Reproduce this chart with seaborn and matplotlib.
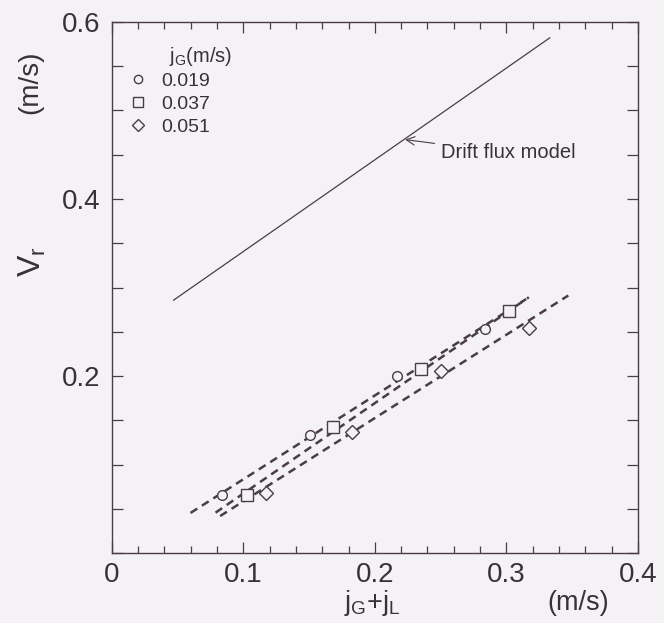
import matplotlib
matplotlib.use("Agg")
import matplotlib.pyplot as plt
from matplotlib.lines import Line2D
from matplotlib.ticker import MultipleLocator, FixedLocator
import seaborn as sns
import pandas as pd

# ---- data ----
groups = ["0.019", "0.037", "0.051"]
x_019 = [0.084, 0.151, 0.217, 0.284]
y_019 = [0.066, 0.134, 0.200, 0.253]
x_037 = [0.103, 0.168, 0.235, 0.302]
y_037 = [0.066, 0.142, 0.208, 0.274]
x_051 = [0.117, 0.183, 0.250, 0.317]
y_051 = [0.0685, 0.137, 0.206, 0.254]

# dashed fitted lines (end points)
fit_x_019 = [0.060, 0.315]
fit_y_019 = [0.0455, 0.287]
fit_x_037 = [0.079, 0.317]
fit_y_037 = [0.0458, 0.289]
fit_x_051 = [0.0825, 0.347]
fit_y_051 = [0.042, 0.291]

# drift flux model line
dfm_x = [0.047, 0.333]
dfm_y = [0.2856, 0.582]

x_ticklabels = ["0", "0.1", "0.2", "0.3", "0.4"]
y_ticklabels = ["0.2", "0.4", "0.6"]

sns.set_style("ticks")
plt.rcParams["font.family"] = ["Liberation Sans", "DejaVu Sans"]
plt.rcParams["mathtext.fontset"] = "custom"
plt.rcParams["mathtext.rm"] = "Liberation Sans"
plt.rcParams["mathtext.it"] = "Liberation Sans"

BG = "#f4f2f4"
INK = "#4a3c4a"
TXT = "#3a303a"

fig = plt.figure(figsize=(6.64, 6.23), dpi=100, facecolor=BG)
ax = fig.add_axes([0.168, 0.112, 0.793, 0.853])
ax.set_facecolor(BG)

markers = {"0.019": "o", "0.037": "s", "0.051": "D"}
msize = {"0.019": 7, "0.037": 8, "0.051": 7.5}
pts = {"0.019": (x_019, y_019), "0.037": (x_037, y_037), "0.051": (x_051, y_051)}
fits = {"0.019": (fit_x_019, fit_y_019), "0.037": (fit_x_037, fit_y_037),
        "0.051": (fit_x_051, fit_y_051)}

for g in groups:
    fx, fy = fits[g]
    sns.lineplot(x=fx, y=fy, ax=ax, color=INK, lw=1.8,
                 linestyle=(0, (3.2, 2.2)), zorder=2)

sns.lineplot(x=dfm_x, y=dfm_y, ax=ax, color=INK, lw=0.9, zorder=2)

for g in groups:
    px, py = pts[g]
    df = pd.DataFrame({"x": px, "y": py})
    ax.plot(df["x"], df["y"], linestyle="none", marker=markers[g],
            markersize=msize[g], mfc=BG, mec=INK, mew=1.0, zorder=3)

ax.annotate("Drift flux model", xy=(0.223, 0.467), xytext=(0.25, 0.452),
            fontsize=14.5, color=TXT, va="center", ha="left",
            arrowprops=dict(arrowstyle="->", color=INK, lw=0.8,
                            shrinkA=2, shrinkB=0, mutation_scale=15))

ax.set_xlim(0, 0.4)
ax.set_ylim(0, 0.6)
ax.xaxis.set_major_locator(FixedLocator([0, 0.1, 0.2, 0.3, 0.4]))
ax.set_xticklabels(x_ticklabels)
ax.xaxis.set_minor_locator(MultipleLocator(0.02))
ax.yaxis.set_major_locator(FixedLocator([0.2, 0.4, 0.6]))
ax.set_yticklabels(y_ticklabels)
ax.yaxis.set_minor_locator(MultipleLocator(0.05))

ax.tick_params(which="both", direction="in", top=True, right=True,
               color=INK, width=0.9)
ax.tick_params(which="major", length=8, labelsize=20, labelcolor=TXT)
ax.tick_params(which="minor", length=5)
ax.tick_params(axis="y", which="minor", length=8)
ax.tick_params(axis="x", which="major", pad=6)
ax.tick_params(axis="y", which="major", pad=8)
for s in ax.spines.values():
    s.set_color(INK)
    s.set_linewidth(1.0)

ax.set_xlabel("")
ax.set_ylabel("")

fig.text(32 / 664, 1 - 262 / 623, r"$\mathrm{V_r}$", rotation=90, fontsize=23,
         color=TXT, ha="center", va="center")
fig.text(30 / 664, 1 - 82 / 623, "(m/s)", rotation=90, fontsize=20,
         color=TXT, ha="center", va="center")
fig.text(372 / 664, 1 - 603 / 623, r"$\mathrm{j_G}$+$\mathrm{j_L}$", fontsize=19.5,
         color=TXT, ha="center", va="center")
fig.text(578 / 664, 1 - 603 / 623, "(m/s)", fontsize=19.5,
         color=TXT, ha="center", va="center")

# legend title, indented like the reference
fig.text(169 / 664, 1 - 56 / 623, r"$\mathrm{j_G}$(m/s)", fontsize=14.5,
         color=TXT, ha="left", va="center")

handles = [Line2D([], [], linestyle="none", marker=markers[g], markersize=msize[g] - 1,
                  mfc=BG, mec=INK, mew=1.0) for g in groups]
leg = ax.legend(handles, groups, loc="upper left",
                bbox_to_anchor=(0.029, 0.913), frameon=False, fontsize=14,
                handlelength=0.8, handletextpad=0.75, borderaxespad=0.0,
                labelspacing=0.28, borderpad=0.2)
for t in leg.get_texts():
    t.set_color(TXT)

fig.savefig("out.png", dpi=100, facecolor=BG)
